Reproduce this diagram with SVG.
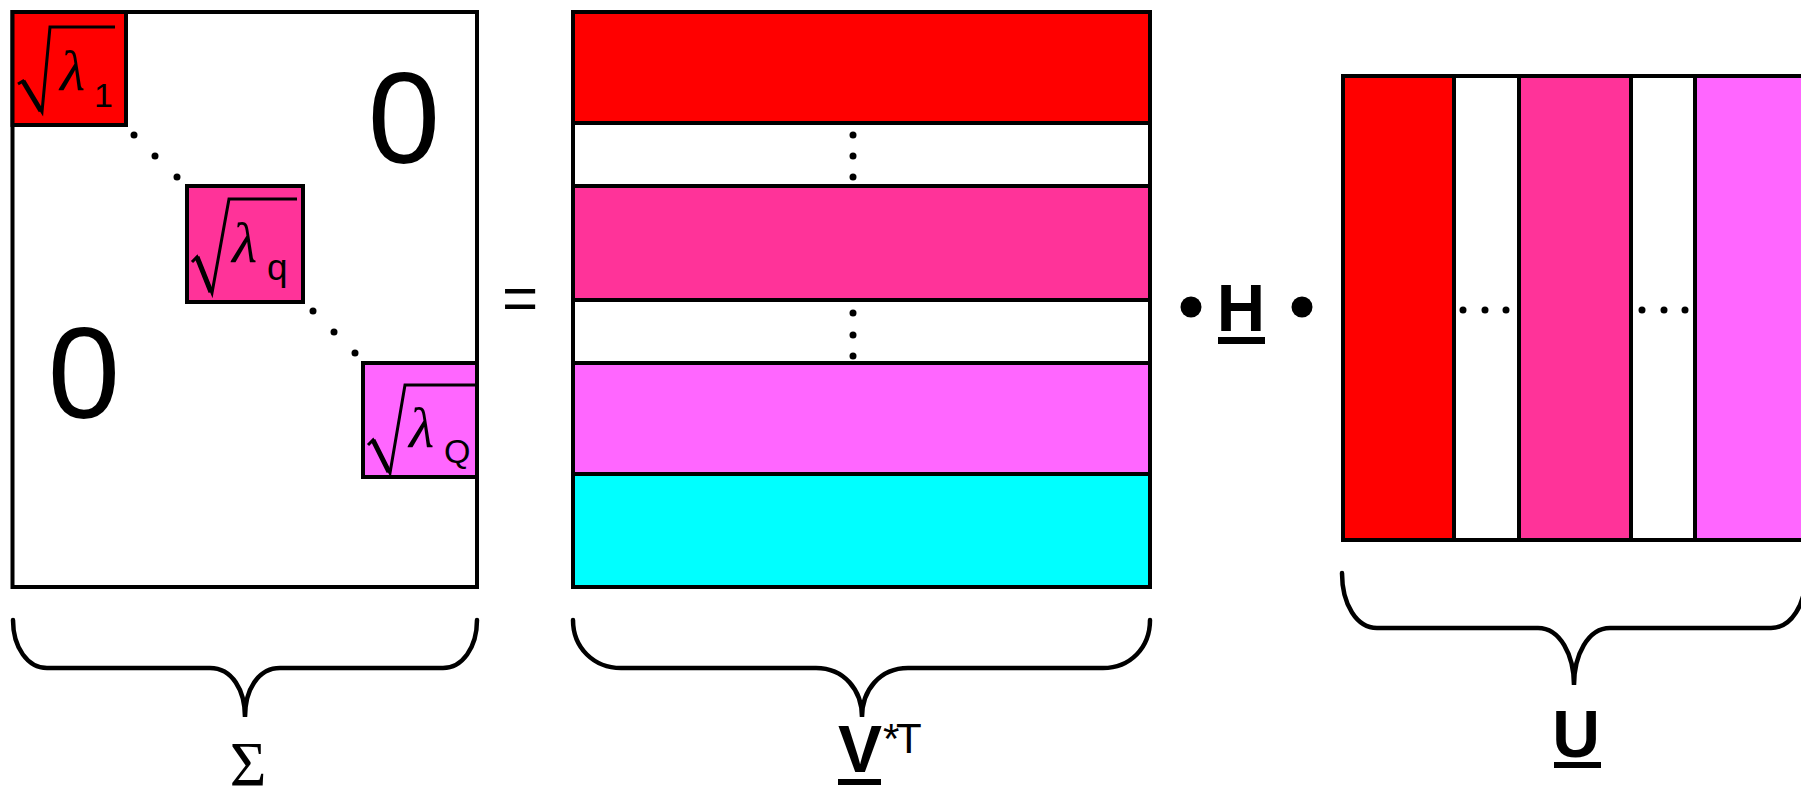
<svg xmlns="http://www.w3.org/2000/svg" width="1801" height="791" viewBox="0 0 1801 791">
<style>
.cell{stroke:#000;stroke-width:4}
.red{fill:#ff0000}
.pink{fill:#ff3399}
.mag{fill:#ff66ff}
.cyan{fill:#00ffff}
.white{fill:#ffffff}
.rad{fill:none;stroke:#000;stroke-width:3;stroke-linejoin:miter}
.radthick{fill:none;stroke:#000;stroke-width:5;stroke-linecap:butt}
.brace{fill:none;stroke:#000;stroke-width:4.5;stroke-linecap:round}
.lam{font-family:"Liberation Serif",serif;font-style:italic;font-size:58px}
.sub{font-family:"Liberation Sans",sans-serif;font-size:34px}
.zero{font-family:"Liberation Sans",sans-serif;font-size:130px;text-anchor:middle}
.bold{font-family:"Liberation Sans",sans-serif;font-weight:bold;font-size:66px;text-anchor:middle}
</style>
<rect width="1801" height="791" fill="#ffffff"/>

<g id="sigma">
<rect class="cell white" x="12.5" y="12" width="464.5" height="575"/>
<text class="zero" x="404" y="163">0</text>
<text class="zero" x="84" y="418">0</text>
<g id="s1">
<rect class="cell red" x="12.5" y="12" width="113.5" height="113"/>
<polyline class="rad" points="18,84 23,81 42,112 50,27 115,27"/>
<line class="radthick" x1="23" y1="81" x2="41" y2="111"/>
<text class="lam" x="60" y="90">λ</text>
<text class="sub" x="94" y="107">1</text>
</g>
<g id="sq">
<rect class="cell pink" x="187" y="186" width="116" height="116"/>
<polyline class="rad" points="192,262 197,257 212,293 229,199 297,199"/>
<line class="radthick" x1="197" y1="257" x2="211" y2="292"/>
<text class="lam" x="232" y="262">λ</text>
<text class="sub" x="267" y="280" style="font-size:37px">q</text>
</g>
<g id="sQ">
<rect class="cell mag" x="363" y="363" width="114" height="114"/>
<polyline class="rad" points="368,445 373,440 390,473 405,385 475,385"/>
<line class="radthick" x1="373" y1="440" x2="389" y2="472"/>
<text class="lam" x="409" y="447">λ</text>
<text class="sub" x="444" y="463">Q</text>
</g>
<g id="sdots">
<circle cx="134" cy="135" r="3.5"/><circle cx="155" cy="156" r="3.5"/><circle cx="177" cy="177" r="3.5"/>
<circle cx="313" cy="311" r="3.5"/><circle cx="334" cy="332" r="3.5"/><circle cx="355" cy="353" r="3.5"/>
</g>
</g>

<g id="equals">
<text x="520" y="319" font-family="Liberation Sans, sans-serif" font-size="62" text-anchor="middle">=</text>
</g>

<g id="vmatrix">
<rect class="cell red" x="573" y="12" width="577" height="111"/>
<rect class="cell white" x="573" y="123" width="577" height="63"/>
<rect class="cell pink" x="573" y="186" width="577" height="114"/>
<rect class="cell white" x="573" y="300" width="577" height="63"/>
<rect class="cell mag" x="573" y="363" width="577" height="111"/>
<rect class="cell cyan" x="573" y="474" width="577" height="113"/>
<circle cx="853" cy="135" r="3.5"/><circle cx="853" cy="156" r="3.5"/><circle cx="853" cy="177" r="3.5"/>
<circle cx="853" cy="313" r="3.5"/><circle cx="853" cy="335" r="3.5"/><circle cx="853" cy="356" r="3.5"/>
</g>

<g id="hterm">
<circle cx="1191" cy="307" r="10.5"/>
<text class="bold" x="1241" y="331" style="font-size:67px">H</text>
<rect x="1218" y="337" width="47" height="7"/>
<circle cx="1302" cy="307" r="10.5"/>
</g>

<g id="umatrix">
<rect class="cell red" x="1343" y="76" width="111" height="464"/>
<rect class="cell white" x="1454" y="76" width="65" height="464"/>
<rect class="cell pink" x="1519" y="76" width="112" height="464"/>
<rect class="cell white" x="1631" y="76" width="64" height="464"/>
<rect class="cell mag" x="1695" y="76" width="111" height="464"/>
<circle cx="1463" cy="310" r="3.5"/><circle cx="1485" cy="310" r="3.5"/><circle cx="1506" cy="310" r="3.5"/>
<circle cx="1642" cy="310" r="3.5"/><circle cx="1664" cy="310" r="3.5"/><circle cx="1685" cy="310" r="3.5"/>
</g>

<g id="connectors">
<path class="brace" d="M13,620 C13,648 28,668 47,668 L210,668 C232,668 245,690 245,717 C245,690 258,668 280,668 L443,668 C462,668 477,648 477,620"/>
<path class="brace" d="M573,620 C573,648 594,668 621,668 L816,668 C844,668 862,690 862,717 C862,690 880,668 908,668 L1103,668 C1130,668 1150,648 1150,620"/>
<path class="brace" d="M1342,573 C1342,605 1357,628 1377,628 L1538,628 C1560,628 1574,655 1574,685 C1574,655 1588,628 1610,628 L1771,628 C1791,628 1806,605 1806,573"/>
</g>

<g id="labels">
<text x="248" y="786" font-family="Liberation Serif, serif" font-size="63" text-anchor="middle">Σ</text>
<text class="bold" x="860" y="772">V</text>
<rect x="838" y="779" width="43" height="6"/>
<text font-family="Liberation Sans, sans-serif" font-size="42"><tspan x="883" y="753">*</tspan><tspan x="896" y="753">T</tspan></text>
<text class="bold" x="1576" y="757">U</text>
<rect x="1554" y="762" width="47" height="6"/>
</g>
</svg>
